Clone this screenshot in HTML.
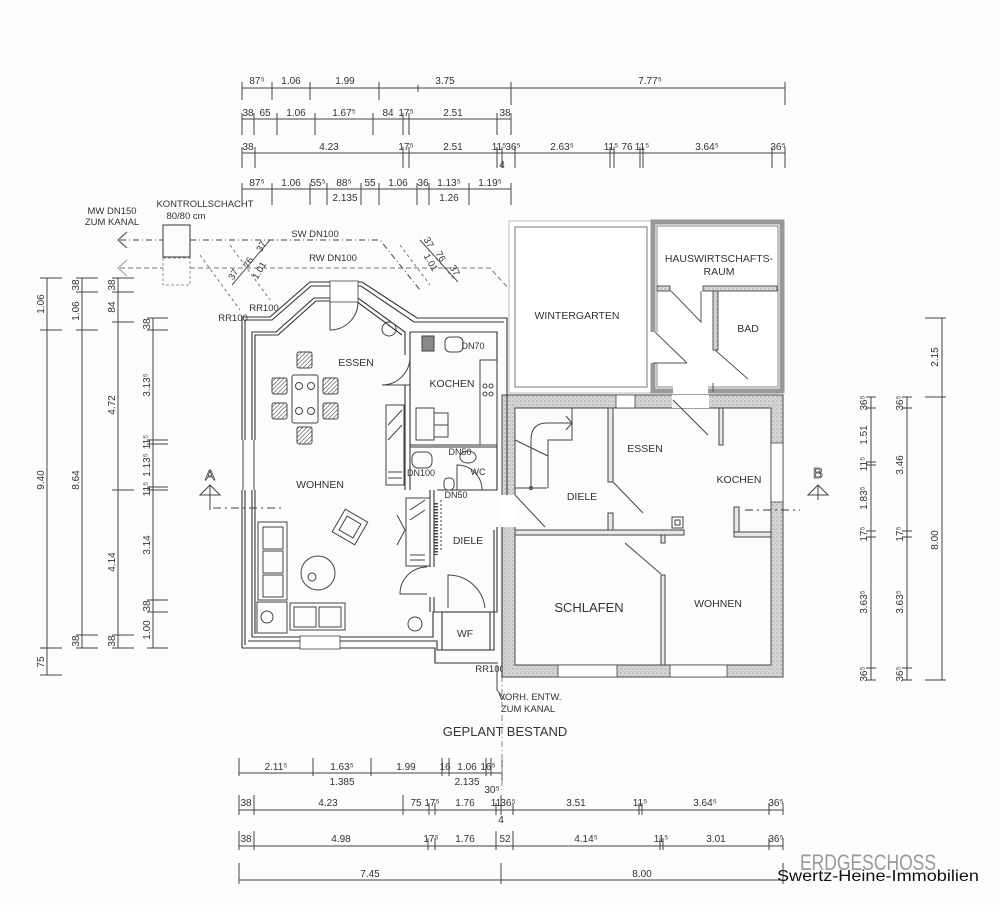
<!DOCTYPE html>
<html><head><meta charset="utf-8"><style>
html,body{margin:0;padding:0;background:#fcfcfc;}
svg{display:block;}
text{font-family:"Liberation Sans","DejaVu Sans",sans-serif;fill:#333;}
.d{font-size:10px;text-anchor:middle;}
.l{font-size:10.5px;text-anchor:middle;}
</style></head><body>
<svg width="1000" height="905" viewBox="0 0 1000 905" xmlns="http://www.w3.org/2000/svg">
<defs>
<pattern id="hat" width="4" height="4" patternUnits="userSpaceOnUse"><rect width="4" height="4" fill="#d6d6d6"/><circle cx="1" cy="1" r="0.8" fill="#aaa"/><circle cx="3" cy="3" r="0.6" fill="#bbb"/></pattern>
<pattern id="diag" width="3" height="3" patternUnits="userSpaceOnUse" patternTransform="rotate(45)"><rect width="3" height="3" fill="#fff"/><line x1="0" y1="0" x2="0" y2="3" stroke="#444" stroke-width="1.2"/></pattern>
</defs>
<rect width="1000" height="905" fill="#fcfcfc"/>

<!-- ===== TOP DIMENSIONS ===== -->
<g stroke="#444" stroke-width="1" fill="none">
<line x1="242" y1="88" x2="785" y2="88"/>
<path d="M242 82V100M272 82V100M310 82V100M379 82V100M511 82V100M785 82V100M418 85V92"/>
<line x1="511" y1="88" x2="511" y2="105"/><line x1="785" y1="88" x2="785" y2="105"/>
<line x1="242" y1="119" x2="511" y2="119"/>
<path d="M242 113V135M254 113V135M277 113V135M315 113V135M373 113V135M403 113V135M409 113V135M497 113V135M511 113V135"/>
<line x1="242" y1="153" x2="785" y2="153"/>
<path d="M242 147V168M255 147V168M403 147V168M409 147V168M497 147V168M502 147V168M515 147V168M610 147V168M614 147V168M640 147V168M643 147V168M772 147V168M785 147V168"/>
<line x1="242" y1="189" x2="511" y2="189"/>
<path d="M242 183V205M272 183V205M310 183V205M327 183V205M361 183V205M379 183V205M417 183V205M429 183V205M469 183V205M511 183V205"/>
</g>
<g class="d">
<text x="257" y="84">87⁵</text><text x="291" y="84">1.06</text><text x="345" y="84">1.99</text><text x="445" y="84">3.75</text><text x="650" y="84">7.77⁵</text>
<text x="248" y="116">38</text><text x="265" y="116">65</text><text x="296" y="116">1.06</text><text x="344" y="116">1.67⁵</text><text x="388" y="116">84</text><text x="406" y="116">17⁵</text><text x="453" y="116">2.51</text><text x="505" y="116">38</text>
<text x="248" y="150">38</text><text x="329" y="150">4.23</text><text x="406" y="150">17⁵</text><text x="453" y="150">2.51</text><text x="499" y="150">11⁵</text><text x="513" y="150">36⁵</text><text x="562" y="150">2.63⁵</text><text x="611" y="150">11⁵</text><text x="627" y="150">76</text><text x="642" y="150">11⁵</text><text x="707" y="150">3.64⁵</text><text x="778" y="150">36⁵</text><text x="502" y="168">4</text>
<text x="257" y="186">87⁵</text><text x="291" y="186">1.06</text><text x="318" y="186">55⁵</text><text x="344" y="186">88⁵</text><text x="370" y="186">55</text><text x="398" y="186">1.06</text><text x="423" y="186">36</text><text x="449" y="186">1.13⁵</text><text x="490" y="186">1.19⁵</text>
<text x="345" y="201">2.135</text><text x="449" y="201">1.26</text>
</g>

<!-- ===== LEFT DIMENSIONS ===== -->
<g stroke="#444" stroke-width="1" fill="none">
<line x1="47" y1="278" x2="47" y2="675"/>
<path d="M40 278H62M40 330H62M40 648H62M40 675H62"/>
<line x1="82" y1="278" x2="82" y2="648"/>
<path d="M76 278H98M76 292H98M76 330H98M76 635H98M76 648H98"/>
<line x1="118" y1="278" x2="118" y2="648"/>
<path d="M112 278H134M112 292H134M112 322H134M112 490H134M112 635H134M112 648H134"/>
<line x1="153" y1="318" x2="153" y2="648"/>
<path d="M147 318H168M147 330H168M147 440H168M147 444H168M147 487H168M147 490H168M147 600H168M147 612H168M147 648H168"/>
</g>
<g class="d">
<text transform="translate(44,304) rotate(-90)">1.06</text><text transform="translate(44,480) rotate(-90)">9.40</text><text transform="translate(44,662) rotate(-90)">75</text>
<text transform="translate(79,285) rotate(-90)">38</text><text transform="translate(79,311) rotate(-90)">1.06</text><text transform="translate(79,480) rotate(-90)">8.64</text><text transform="translate(79,641) rotate(-90)">38</text>
<text transform="translate(115,285) rotate(-90)">38</text><text transform="translate(115,307) rotate(-90)">84</text><text transform="translate(115,405) rotate(-90)">4.72</text><text transform="translate(115,562) rotate(-90)">4.14</text><text transform="translate(115,641) rotate(-90)">38</text>
<text transform="translate(150,324) rotate(-90)">38</text><text transform="translate(150,385) rotate(-90)">3.13⁵</text><text transform="translate(150,442) rotate(-90)">11⁵</text><text transform="translate(150,465) rotate(-90)">1.13⁵</text><text transform="translate(150,489) rotate(-90)">11⁵</text><text transform="translate(150,545) rotate(-90)">3.14</text><text transform="translate(150,606) rotate(-90)">38</text><text transform="translate(150,630) rotate(-90)">1.00</text>
</g>

<!-- ===== RIGHT DIMENSIONS ===== -->
<g stroke="#444" stroke-width="1" fill="none">
<line x1="871" y1="397" x2="871" y2="680"/>
<path d="M866 397H876M866 408H876M866 462H876M866 465H876M866 531H876M866 537H876M866 668H876M866 680H876"/>
<line x1="907" y1="397" x2="907" y2="680"/>
<path d="M902 397H912M902 408H912M902 531H912M902 537H912M902 668H912M902 680H912"/>
<line x1="942" y1="318" x2="942" y2="680"/>
<path d="M925 318H946M925 397H946M925 680H946"/>
</g>
<g class="d">
<text transform="translate(867,403) rotate(-90)">36⁵</text><text transform="translate(867,435) rotate(-90)">1.51</text><text transform="translate(867,464) rotate(-90)">11⁵</text><text transform="translate(867,498) rotate(-90)">1.83⁵</text><text transform="translate(867,534) rotate(-90)">17⁵</text><text transform="translate(867,602) rotate(-90)">3.63⁵</text><text transform="translate(867,674) rotate(-90)">36⁵</text>
<text transform="translate(903,403) rotate(-90)">36⁵</text><text transform="translate(903,465) rotate(-90)">3.46</text><text transform="translate(903,534) rotate(-90)">17⁵</text><text transform="translate(903,602) rotate(-90)">3.63⁵</text><text transform="translate(903,674) rotate(-90)">36⁵</text>
<text transform="translate(938,357) rotate(-90)">2.15</text><text transform="translate(938,540) rotate(-90)">8.00</text>
</g>

<!-- ===== BOTTOM DIMENSIONS ===== -->
<g stroke="#444" stroke-width="1" fill="none">
<line x1="239" y1="773" x2="502" y2="773"/>
<path d="M239 758V776M313 758V776M371 758V776M442 758V776M449 758V776M486 758V776M491 758V776M502 755V780"/>
<line x1="239" y1="810" x2="783" y2="810"/>
<path d="M239 795V815M254 795V815M403 795V815M429 803V815M435 803V815M496 803V815M501 795V815M513 803V815M639 803V815M642 803V815M769 803V815M783 803V815"/>
<line x1="239" y1="846" x2="783" y2="846"/>
<path d="M239 831V850M254 831V850M428 838V850M435 838V850M496 831V850M513 831V850M660 838V850M663 838V850M769 838V850M783 838V850"/>
<line x1="239" y1="880" x2="783" y2="880"/>
<path d="M239 863V884M501 863V884M783 863V884"/>
<line x1="502" y1="650" x2="502" y2="790" stroke-dasharray="6 3 1 3" stroke="#888"/>
</g>
<g class="d">
<text x="276" y="770">2.11⁵</text><text x="342" y="770">1.63⁵</text><text x="406" y="770">1.99</text><text x="445" y="770">16</text><text x="467" y="770">1.06</text><text x="488" y="770">16⁵</text>
<text x="342" y="785">1.385</text><text x="467" y="785">2.135</text><text x="492" y="793">30⁵</text>
<text x="246" y="806">38</text><text x="328" y="806">4.23</text><text x="416" y="806">75</text><text x="432" y="806">17⁵</text><text x="465" y="806">1.76</text><text x="496" y="806">11</text><text x="508" y="806">36⁵</text><text x="576" y="806">3.51</text><text x="640" y="806">11⁵</text><text x="705" y="806">3.64⁵</text><text x="776" y="806">36⁵</text><text x="501" y="823">4</text>
<text x="246" y="842">38</text><text x="341" y="842">4.98</text><text x="431" y="842">17⁵</text><text x="465" y="842">1.76</text><text x="505" y="842">52</text><text x="586" y="842">4.14⁵</text><text x="661" y="842">11⁵</text><text x="716" y="842">3.01</text><text x="776" y="842">36⁵</text>
<text x="370" y="877">7.45</text><text x="642" y="877">8.00</text>
</g>
<text x="800" y="870" style="font-size:22px;fill:#999;" textLength="136" lengthAdjust="spacingAndGlyphs">ERDGESCHOSS</text>
<text x="777" y="881" style="font-size:15.5px;fill:#111;" textLength="202" lengthAdjust="spacingAndGlyphs">Swertz-Heine-Immobilien</text>

<!-- ===== PIPES / SCHACHT ===== -->
<g stroke="#444" stroke-width="1" fill="none">
<rect x="163" y="225" width="27" height="32" stroke="#333"/>
<rect x="163" y="258" width="27" height="27" stroke="#999" stroke-dasharray="3 2"/>
<path d="M120 240H163 M190 240H380 L420 290" stroke-dasharray="6 3 1 3"/>
<path d="M127 232L118 240L127 248"/>
<path d="M120 268H163 M190 268H490 L510 290" stroke-dasharray="5 3" stroke="#777"/>
<path d="M127 260L118 268L127 276" stroke="#999"/>
<path d="M200 255L240 310M230 245L270 300M400 245L430 285M420 240L455 280" stroke="#777" stroke-dasharray="3 3"/>
<path d="M232 285L270 240M420 240L458 282" stroke="#555"/>
</g>
<g class="d" style="font-size:9.5px">
<text x="112" y="214">MW DN150</text><text x="112" y="225">ZUM KANAL</text>
<text x="205" y="207">KONTROLLSCHACHT</text><text x="186" y="219">80/80 cm</text>
<text x="315" y="237">SW DN100</text><text x="333" y="261">RW DN100</text>
<text transform="translate(236,276) rotate(-60)">37</text>
<text transform="translate(251,264) rotate(-60)">76</text>
<text transform="translate(264,248) rotate(-60)">37</text>
<text transform="translate(262,272) rotate(-60)">1.01</text>
<text transform="translate(426,244) rotate(60)">37</text>
<text transform="translate(438,258) rotate(60)">76</text>
<text transform="translate(452,272) rotate(60)">37</text>
<text transform="translate(428,264) rotate(60)">1.01</text>
<text x="233" y="321">RR100</text><text x="264" y="311">RR100</text><text x="490" y="672">RR100</text>
<text x="530" y="700">VORH. ENTW.</text><text x="528" y="712">ZUM KANAL</text>
</g>
<text x="505" y="736" style="font-size:13px;text-anchor:middle">GEPLANT  BESTAND</text>
<path d="M497 665V690L505 700" stroke="#444" fill="none"/>

<!-- ===== WINTERGARTEN / HWR ===== -->
<rect x="509" y="221" width="142" height="172" fill="#fff" stroke="#bbb" stroke-width="1"/>
<rect x="515" y="227" width="132" height="160" fill="#fff" stroke="#777" stroke-width="1"/>
<rect x="653" y="222" width="129" height="169" fill="#fff" stroke="#999" stroke-width="5"/>
<rect x="657" y="226" width="121" height="161" fill="none" stroke="#666" stroke-width="0.8"/>
<rect x="650" y="332" width="8" height="31" fill="#fff"/>
<rect x="673" y="386" width="35" height="8" fill="#fff"/>
<g stroke="#555" stroke-width="1" fill="none">
<rect x="657" y="286" width="13" height="5" fill="url(#hat)"/>
<rect x="703" y="286" width="74" height="5" fill="url(#hat)"/>
<rect x="713" y="291" width="5" height="59" fill="url(#hat)"/>
<path d="M671 291L701 322V291M715 350L748 379M655 332L687 363M653 363H687M713 383V392"/>
</g>
<text class="l" x="577" y="319">WINTERGARTEN</text>
<text class="l" x="719" y="262">HAUSWIRTSCHAFTS-</text><text class="l" x="719" y="275">RAUM</text>
<text class="l" x="748" y="332">BAD</text>

<!-- ===== OLD HOUSE (BESTAND) ===== -->
<path d="M502 395H783V677H502Z M515 408V665H771V408Z" fill="url(#hat)" fill-rule="evenodd" stroke="#444" stroke-width="1"/>
<g fill="#fff" stroke="#444" stroke-width="0.8">
<rect x="616" y="395" width="19" height="13"/>
<rect x="672" y="395" width="37" height="13" stroke="none"/>
<rect x="771" y="443" width="12" height="59"/>
<rect x="558" y="665" width="59" height="12"/>
<rect x="670" y="665" width="57" height="12"/>
<rect x="501" y="495" width="15" height="32" stroke="none"/>
</g>
<g stroke="#444" stroke-width="1" fill="#e8e8e8">
<rect x="608" y="408" width="5" height="74"/>
<rect x="608" y="513" width="5" height="17"/>
<rect x="515" y="530" width="169" height="5"/>
<rect x="661" y="535" width="4" height="8"/>
<rect x="661" y="575" width="4" height="90"/>
<rect x="719" y="408" width="4" height="37"/>
<rect x="734" y="532" width="37" height="5"/>
<rect x="734" y="507" width="5" height="25"/>
</g>
<g stroke="#444" stroke-width="1" fill="none">
<rect x="672" y="517" width="11" height="11"/><rect x="675" y="520" width="5" height="5"/>
<path d="M613 482L643 513M625 543L661 574M673 400L708 435M515 495L545 527"/>
<path d="M515 440L548 456M531 488V440Q531 423 547 423H572M548 488V440H572V408M515 488H547M566 416L572 423L566 430"/>
<circle cx="531" cy="488" r="1.5"/>
<path d="M745 510H800" stroke-dasharray="8 4 2 4" stroke="#333"/>
</g>
<text class="l" x="645" y="452">ESSEN</text>
<text class="l" x="582" y="500">DIELE</text>
<text class="l" x="739" y="483">KOCHEN</text>
<text class="l" x="589" y="612" style="font-size:13px">SCHLAFEN</text>
<text class="l" x="718" y="607">WOHNEN</text>

<!-- ===== NEW HOUSE ===== -->
<g stroke="#333" stroke-width="1.1" fill="none">
<path d="M242 648V317H270L310 282H362L417 318H507V495 M502 527V677 M498 663H435V648H242"/>
<path d="M245 645V320H272L311 286H361L414 322H504"/>
<path d="M252 637V332H276L314 298H358L405 332V355M405 385V490"/>
<path d="M255 634V335H278L316 301H356L402 335"/>
<path d="M252 637H433V612H442M490 612H497V527"/>
<path d="M248 641H437V650H494V530"/>
<path d="M410 332H497V490H437M410 490V332M410 447H497M410 445H497"/>
<path d="M430 490V567M434 490V567M430 597V612M434 597V612"/>
<rect x="442" y="612" width="48" height="38"/>
<path d="M435 650V663H498"/>
</g>
<g fill="#fff" stroke="#444" stroke-width="0.8">
<rect x="330" y="281" width="28" height="21"/>
<rect x="240" y="440" width="16" height="50" stroke="none"/>
<rect x="300" y="636" width="40" height="13"/>
</g>
<g stroke="#444" stroke-width="1" fill="none">
<line x1="243" y1="440" x2="243" y2="490"/><line x1="254" y1="440" x2="254" y2="490"/>
<path d="M330 302V330A28 28 0 0 0 358 302"/>
<path d="M410 357A28 28 0 0 1 382 385H410"/>
<path d="M427 567A27 27 0 0 0 400 594H427"/>
<path d="M448 608V575A37 37 0 0 1 485 608"/>
<circle cx="389" cy="329" r="7"/><circle cx="415" cy="624" r="7"/>
<rect x="292" y="375" width="26" height="48" rx="2"/>
<circle cx="299" cy="386" r="3.5"/><circle cx="311" cy="386" r="3.5"/><circle cx="299" cy="411" r="3.5"/><circle cx="311" cy="411" r="3.5"/>
<g fill="url(#diag)">
<rect x="297" y="352" width="15" height="16" rx="2"/><rect x="272" y="378" width="15" height="16" rx="2"/><rect x="272" y="403" width="15" height="16" rx="2"/>
<rect x="323" y="378" width="15" height="16" rx="2"/><rect x="323" y="403" width="15" height="16" rx="2"/><rect x="297" y="427" width="15" height="17" rx="2"/>
</g>
<rect x="258" y="522" width="29" height="78"/><rect x="263" y="527" width="20" height="22"/><rect x="263" y="551" width="20" height="22"/><rect x="263" y="575" width="20" height="22"/>
<rect x="290" y="603" width="55" height="27"/><rect x="294" y="607" width="22" height="20"/><rect x="319" y="607" width="22" height="20"/>
<rect x="257" y="602" width="30" height="31"/><circle cx="267" cy="617" r="6"/>
<circle cx="318" cy="573" r="17"/><circle cx="312" cy="577" r="4"/>
<g transform="translate(350,527) rotate(30)"><rect x="-13" y="-13" width="26" height="26"/><rect x="-8" y="-8" width="16" height="16"/></g>
<rect x="386" y="405" width="18" height="80"/><path d="M388 425L402 410M388 440L402 425M388 478H402M388 472H402"/>
<rect x="406" y="498" width="24" height="68"/><path d="M410 510L425 500M410 520L425 510M410 555H425M410 560H425M397 515L405 530L397 545"/>
<path d="M436 503V555" stroke-dasharray="1.5 1.5" stroke-width="4"/>
<rect x="416" y="408" width="18" height="32"/><rect x="434" y="413" width="14" height="12"/><rect x="434" y="425" width="14" height="12"/>
<rect x="480" y="360" width="17" height="85"/><rect x="422" y="336" width="12" height="15" fill="#888"/>
<rect x="445" y="337" width="18" height="15" rx="5"/>
<circle cx="485" cy="386" r="2"/><circle cx="491" cy="386" r="2"/><circle cx="485" cy="394" r="2"/><circle cx="491" cy="394" r="2"/>
<ellipse cx="468" cy="457" rx="8" ry="6"/><rect x="412" y="452" width="20" height="16" rx="6"/><rect x="444" y="478" width="10" height="12" rx="4"/>
<path d="M457 490V465A25 25 0 0 1 482 490"/>
<path d="M441 500V550" stroke-dasharray="2 2"/>
</g>
<g class="l">
<text x="356" y="366">ESSEN</text><text x="452" y="387">KOCHEN</text><text x="320" y="488">WOHNEN</text><text x="468" y="544">DIELE</text><text x="465" y="637">WF</text>
</g>
<g class="d" style="font-size:9px">
<text x="473" y="349">DN70</text><text x="460" y="455">DN50</text><text x="478" y="475">WC</text><text x="421" y="476">DN100</text><text x="456" y="498">DN50</text>
</g>

<g stroke="#444" stroke-width="1" fill="none">
<path d="M200 495L210 485L220 495Z"/><line x1="210" y1="485" x2="210" y2="510"/>
<path d="M213 508H283" stroke-dasharray="8 4 2 4"/>
<path d="M808 495L818 485L828 495Z"/><line x1="818" y1="485" x2="818" y2="500"/>
</g>
<text x="210" y="480" style="font-size:15px;text-anchor:middle;fill:#fff;stroke:#444;stroke-width:0.8">A</text>
<text x="818" y="478" style="font-size:15px;text-anchor:middle;fill:#fff;stroke:#444;stroke-width:0.8">B</text>
</svg>
</body></html>
